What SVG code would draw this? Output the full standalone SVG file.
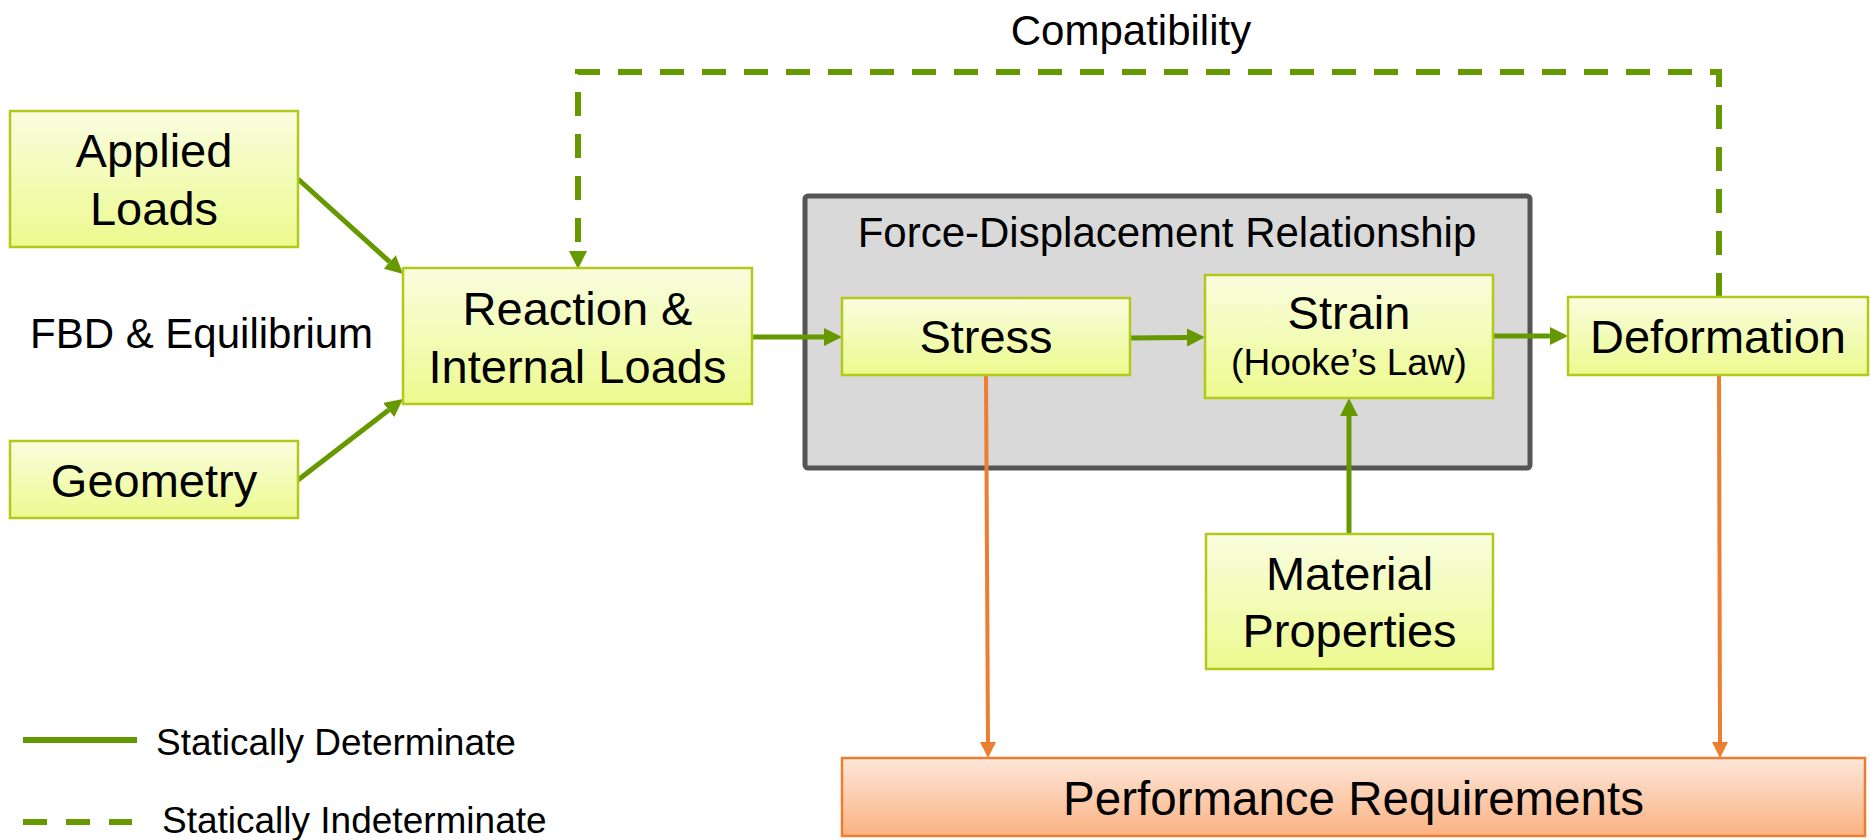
<svg xmlns="http://www.w3.org/2000/svg" width="1871" height="840" viewBox="0 0 1871 840">
  <style>
    text { font-family: "Liberation Sans", Arial, sans-serif; fill: #000; }
    .box { fill: url(#limeFill); stroke: #b2c91c; stroke-width: 2.5; }
    .perf { fill: url(#orangeFill); stroke: #ed7d31; stroke-width: 2.5; }
    .group { fill: #d9d9d9; stroke: #555555; stroke-width: 5; }
    .lbl { font-size: 47px; text-anchor: middle; }
    .solid { fill: none; stroke: #669900; stroke-width: 5; }
    .dash { fill: none; stroke: #669900; stroke-width: 6; stroke-dasharray: 24 18; }
    .orange { fill: none; stroke: #ed7d31; stroke-width: 4; }
  </style>
  <defs>
    <linearGradient id="limeFill" x1="0" y1="0" x2="0" y2="1">
      <stop offset="0" stop-color="#f9fddf"/>
      <stop offset="1" stop-color="#ecfa8e"/>
    </linearGradient>
    <linearGradient id="orangeFill" x1="0" y1="0" x2="0" y2="1">
      <stop offset="0" stop-color="#fde7da"/>
      <stop offset="1" stop-color="#fbb282"/>
    </linearGradient>
    <marker id="arrowG" markerUnits="userSpaceOnUse" markerWidth="18" markerHeight="18" viewBox="0 0 18 18" refX="0" refY="9" orient="auto">
      <path d="M0,0 L18,9 L0,18 z" fill="#669900"/>
    </marker>
    <marker id="arrowO" markerUnits="userSpaceOnUse" markerWidth="16" markerHeight="16" viewBox="0 0 16 16" refX="0" refY="8" orient="auto">
      <path d="M0,0 L16,8 L0,16 z" fill="#ed7d31"/>
    </marker>
  </defs>

  <rect width="1871" height="840" fill="#ffffff"/>

  <!-- enclosing group: force-displacement relationship -->
  <g id="force-displacement">
    <rect class="group" x="805" y="196" width="725" height="272" rx="3"/>
    <text x="1167" y="247" font-size="42" text-anchor="middle">Force-Displacement Relationship</text>
  </g>

  <!-- connectors -->
  <g id="connectors">
    <path class="solid" d="M298,179 L389.7,261.9" marker-end="url(#arrowG)"/>
    <path class="solid" d="M298,480 L388.7,410" marker-end="url(#arrowG)"/>
    <path class="solid" d="M752,337 L824,337" marker-end="url(#arrowG)"/>
    <path class="solid" d="M1130,338 L1187,337.5" marker-end="url(#arrowG)"/>
    <path class="solid" d="M1493,336 L1550,336" marker-end="url(#arrowG)"/>
    <path class="solid" d="M1349,534 L1349,416" marker-end="url(#arrowG)"/>
    <path class="dash" d="M1719,297 L1719,72 L578,72 L578,251" marker-end="url(#arrowG)"/>
    <path class="orange" d="M986,375 L988,742" marker-end="url(#arrowO)"/>
    <path class="orange" d="M1719,375 L1720,742" marker-end="url(#arrowO)"/>
  </g>

  <text x="30" y="348" font-size="42">FBD &amp; Equilibrium</text>
  <text x="1131" y="45" font-size="42" text-anchor="middle">Compatibility</text>

  <g id="applied-loads">
    <rect class="box" x="10" y="111" width="288" height="136"/>
    <text class="lbl" x="154" y="167">Applied</text>
    <text class="lbl" x="154" y="225">Loads</text>
  </g>

  <g id="geometry">
    <rect class="box" x="10" y="441" width="288" height="77"/>
    <text class="lbl" x="154" y="497">Geometry</text>
  </g>

  <g id="reaction-internal-loads">
    <rect class="box" x="403" y="268" width="349" height="136"/>
    <text class="lbl" x="577.5" y="325">Reaction &amp;</text>
    <text class="lbl" x="577.5" y="383">Internal Loads</text>
  </g>

  <g id="stress">
    <rect class="box" x="842" y="298" width="288" height="77"/>
    <text class="lbl" x="986" y="353">Stress</text>
  </g>

  <g id="strain">
    <rect class="box" x="1205" y="275" width="288" height="123"/>
    <text class="lbl" x="1349" y="329">Strain</text>
    <text x="1349" y="375" font-size="37" text-anchor="middle">(Hooke’s Law)</text>
  </g>

  <g id="deformation">
    <rect class="box" x="1568" y="297" width="300" height="78"/>
    <text class="lbl" x="1718" y="353">Deformation</text>
  </g>

  <g id="material-properties">
    <rect class="box" x="1206" y="534" width="287" height="135"/>
    <text class="lbl" x="1349.5" y="590">Material</text>
    <text class="lbl" x="1349.5" y="647">Properties</text>
  </g>

  <g id="performance-requirements">
    <rect class="perf" x="842" y="758" width="1023" height="78"/>
    <text x="1353.5" y="815" font-size="47.5" text-anchor="middle">Performance Requirements</text>
  </g>

  <!-- legend -->
  <g id="legend">
    <line x1="23" y1="740" x2="137" y2="740" stroke="#669900" stroke-width="6"/>
    <text x="156" y="755" font-size="37">Statically Determinate</text>
    <line x1="23" y1="822" x2="132" y2="822" stroke="#669900" stroke-width="6" stroke-dasharray="24 19"/>
    <text x="162" y="833" font-size="37">Statically Indeterminate</text>
  </g>
</svg>
